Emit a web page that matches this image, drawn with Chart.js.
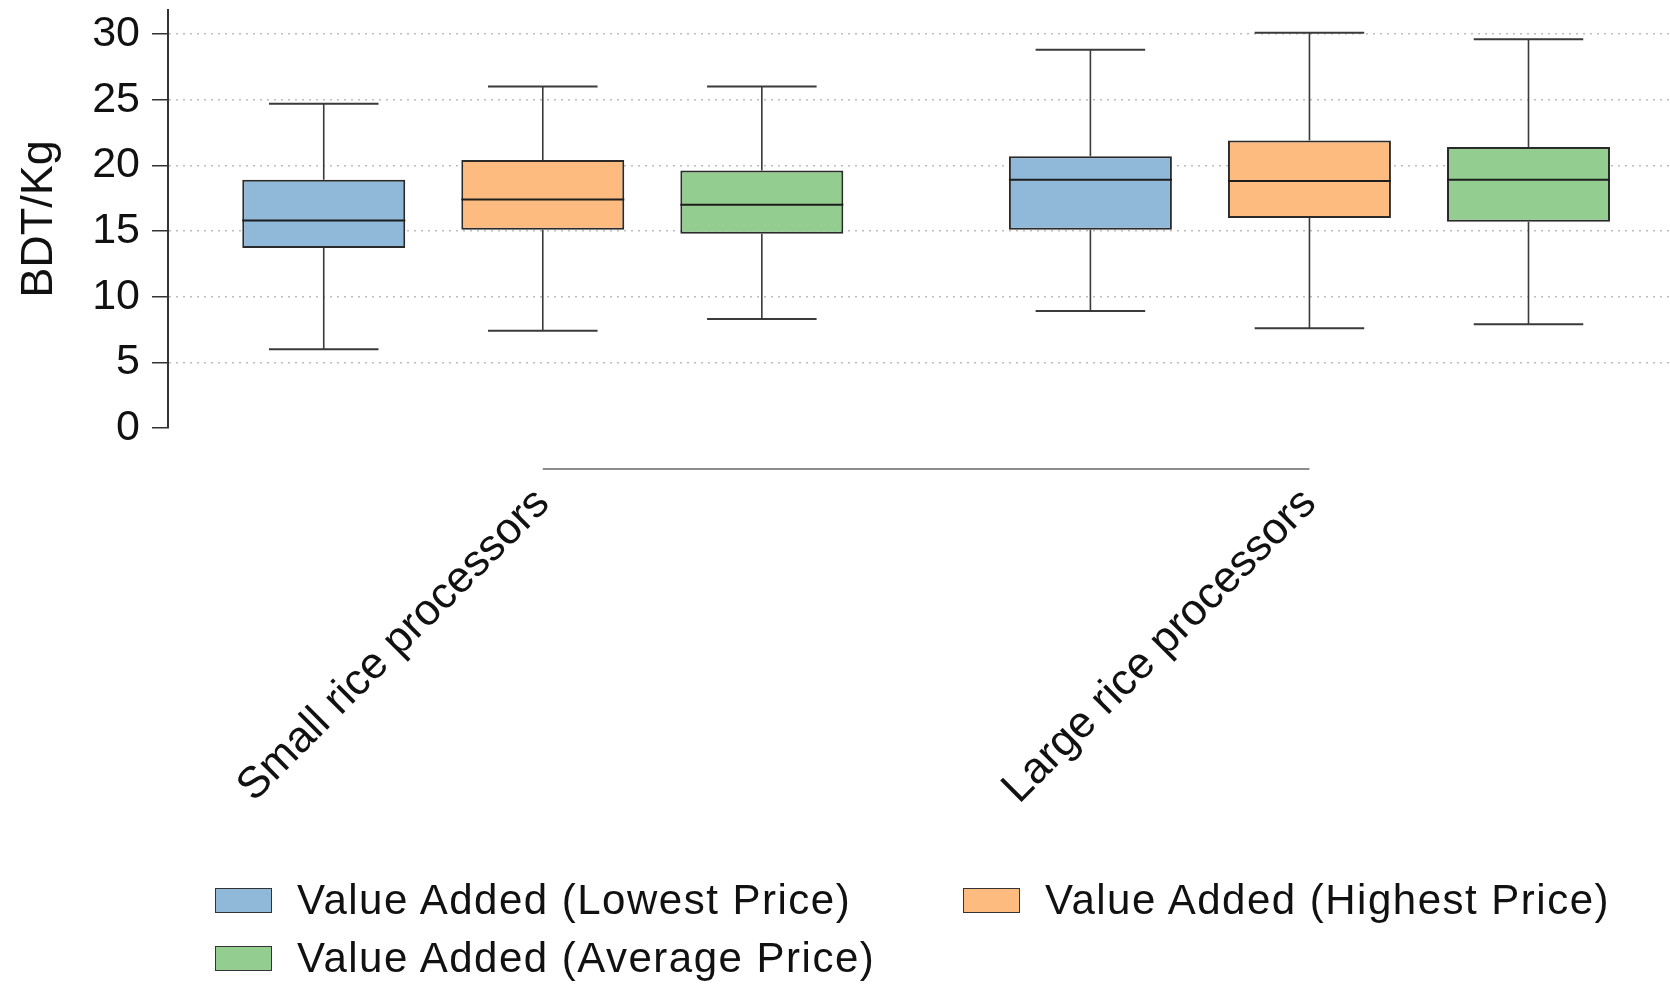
<!DOCTYPE html>
<html>
<head>
<meta charset="utf-8">
<script src="https://cdn.jsdelivr.net/npm/chart.js@4.4.1/dist/chart.umd.min.js"></script>
<style>
  html, body { margin: 0; padding: 0; background: #fff; }
  #wrap { position: relative; width: 1670px; height: 984px; }
  #legend {
    position: absolute; left: 215px; top: 875px;
    display: grid; grid-template-columns: 748px auto; row-gap: 8px;
    font-family: "Liberation Sans", Arial, sans-serif; font-size: 42px; letter-spacing: 1.5px; color: #111;
  }
  .item { display: flex; align-items: center; height: 50px; }
  .swatch { width: 55px; height: 23px; border: 1.5px solid #333; margin-right: 25px; }
</style>
</head>
<body>
<div id="wrap">
  <canvas id="chart" width="1670" height="984"></canvas>
  <div id="legend"></div>
</div>
<script>
// groups on the x axis and the three price series
const groups = ['Small rice processors', 'Large rice processors'];
const seriesNames = ['Value Added (Lowest Price)', 'Value Added (Highest Price)', 'Value Added (Average Price)'];
const seriesColors = ['#90b8d9', '#fdbb80', '#93cd90'];

// [lower whisker, q1, median, q3, upper whisker] for each group
const lowestPrice = [[6.0, 13.7, 15.8, 18.9, 24.7], [8.9, 15.1, 18.9, 20.7, 28.8]];
const highestPrice = [[7.4, 15.1, 17.4, 20.4, 26.0], [7.6, 16.0, 18.8, 21.9, 30.1]];
const averagePrice = [[8.3, 14.8, 17.0, 19.6, 26.0], [7.9, 15.7, 18.9, 21.4, 29.6]];

const yTicks = [0, 5, 10, 15, 20, 25, 30];

const FONT = '"Liberation Sans", Arial, sans-serif';
const GROUP_GAP = 0.5;   // extra space between the two groups, in box slots
const slot = (g, s) => g * (seriesNames.length + GROUP_GAP) + s;
const groupCenter = g => slot(g, (seriesNames.length - 1) / 2);

const summaries = [lowestPrice, highestPrice, averagePrice];

const datasets = summaries.map((rows, s) => ({
  label: seriesNames[s],
  data: rows.map((r, g) => ({ x: slot(g, s), y: [r[1], r[3]], stats: r })),
  backgroundColor: seriesColors[s],
  borderColor: '#2a2a2a',
  borderWidth: 2,
  borderSkipped: false,
  grouped: false,
  categoryPercentage: 1,
  barPercentage: 0.744
}));

// whiskers, caps and medians on top of the boxes
const boxExtras = {
  id: 'boxExtras',
  afterDatasetsDraw(chart) {
    const { ctx, scales: { x, y } } = chart;
    ctx.save();
    ctx.lineCap = 'butt';
    chart.data.datasets.forEach((ds, i) => {
      const meta = chart.getDatasetMeta(i);
      ds.data.forEach((d, j) => {
        const [lo, q1, med, q3, hi] = d.stats;
        const cx = x.getPixelForValue(d.x);
        const capL = x.getPixelForValue(d.x - 0.25);
        const capR = x.getPixelForValue(d.x + 0.25);
        const half = meta.data[j].width / 2;

        ctx.strokeStyle = '#3a3a3a';
        ctx.lineWidth = 1.6;
        ctx.beginPath();
        ctx.moveTo(cx, y.getPixelForValue(q3));
        ctx.lineTo(cx, y.getPixelForValue(hi));
        ctx.moveTo(cx, y.getPixelForValue(q1));
        ctx.lineTo(cx, y.getPixelForValue(lo));
        ctx.stroke();

        ctx.lineWidth = 2;
        ctx.beginPath();
        ctx.moveTo(capL, y.getPixelForValue(hi));
        ctx.lineTo(capR, y.getPixelForValue(hi));
        ctx.moveTo(capL, y.getPixelForValue(lo));
        ctx.lineTo(capR, y.getPixelForValue(lo));
        ctx.stroke();

        ctx.strokeStyle = '#1e1e1e';
        ctx.lineWidth = 2;
        ctx.beginPath();
        ctx.moveTo(cx - half, y.getPixelForValue(med));
        ctx.lineTo(cx + half, y.getPixelForValue(med));
        ctx.stroke();
      });
    });

    // grey line joining the group positions under the plot
    const lineY = chart.chartArea.bottom + 41;
    ctx.strokeStyle = '#8c8c8c';
    ctx.lineWidth = 2;
    ctx.beginPath();
    ctx.moveTo(x.getPixelForValue(groupCenter(0)), lineY);
    ctx.lineTo(x.getPixelForValue(groupCenter(groups.length - 1)), lineY);
    ctx.stroke();
    ctx.restore();
  }
};

const chart = new Chart(document.getElementById('chart'), {
  type: 'bar',
  data: { datasets },
  plugins: [boxExtras],
  options: {
    responsive: false,
    animation: false,
    layout: { padding: { top: 10, right: 0, bottom: 0, left: 0 } },
    plugins: { legend: { display: false }, tooltip: { enabled: false } },
    scales: {
      x: {
        type: 'linear',
        offset: false,
        min: -0.711,
        max: 6.146,
        grid: { display: false, offset: false },
        border: { display: false },
        afterBuildTicks: scale => { scale.ticks = groups.map((g, i) => ({ value: groupCenter(i) })); },
        afterFit: scale => {
          scale.height = 556;
          scale.paddingLeft = 0;
          scale.paddingRight = 0;
        },
        ticks: {
          autoSkip: false,
          minRotation: 45,
          maxRotation: 45,
          padding: 42,
          color: '#111',
          font: { family: FONT, size: 44 },
          callback: (v, i) => groups[i]
        }
      },
      y: {
        min: 0,
        max: 31.83,
        afterBuildTicks: scale => { scale.ticks = yTicks.map(v => ({ value: v })); },
        afterFit: scale => {
          scale.width = 168;
          scale.paddingTop = 0;
          scale.paddingBottom = 0;
        },
        grid: {
          color: c => (c.tick && c.tick.value === 0 ? 'rgba(0,0,0,0)' : '#bdbdbd'),
          lineWidth: 1.5,
          drawTicks: true,
          tickLength: 16,
          tickColor: '#333',
          tickWidth: 1.5,
          tickBorderDash: []
        },
        border: { display: true, color: '#333', width: 2, dash: [2, 5] },
        ticks: {
          padding: 12,
          color: '#111',
          font: { family: FONT, size: 43 }
        },
        title: {
          display: true,
          text: 'BDT/Kg',
          color: '#111',
          padding: { top: 13, bottom: 0 },
          font: { family: FONT, size: 45 }
        }
      }
    }
  }
});

// legend laid out in two columns under the chart
const legend = document.getElementById('legend');
chart.data.datasets.forEach(ds => {
  const item = document.createElement('div');
  item.className = 'item';
  const sw = document.createElement('span');
  sw.className = 'swatch';
  sw.style.background = ds.backgroundColor;
  const txt = document.createElement('span');
  txt.textContent = ds.label;
  item.appendChild(sw);
  item.appendChild(txt);
  legend.appendChild(item);
});
</script>
</body>
</html>
